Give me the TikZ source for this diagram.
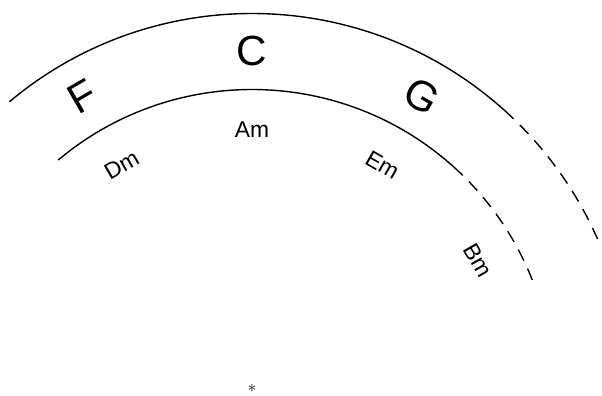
\documentclass[tikz,border=0pt]{standalone}
\usepackage{fontspec}
\setsansfont{Liberation Sans}
\begin{document}
\begin{tikzpicture}[
    line cap=butt,
    solidarc/.style={line width=0.8pt},
    dashedarc/.style={
        line width=0.8pt,
        dash pattern=on 7pt off 5pt
    },
    major/.style={font=\sffamily\fontsize{24}{24}\selectfont, inner sep=0pt},
    minor/.style={font=\sffamily\fontsize{13}{13}\selectfont, inner sep=0pt}
]

% =========================================================
% Parameters
% =========================================================

\def\Ro{7.55}    % outer circle (major keys)
\def\Ri{6.03}    % inner circle (minor keys)
\def\Rmaj{6.8}   % radius of major labels
\def\Rmin{5.22}  % radius of minor labels

\useasboundingbox (-5.04,-0.10) rectangle (7.0,7.82);

\coordinate (O) at (0,0);

% =========================================================
% Outer circle
% =========================================================

\draw[solidarc]
    (130:\Ro) arc[start angle=130, end angle=48, radius=\Ro];
\draw[dashedarc]
    (48:\Ro) arc[start angle=48, end angle=23, radius=\Ro];

% =========================================================
% Inner circle
% =========================================================

\draw[solidarc]
    (130:\Ri) arc[start angle=130, end angle=48, radius=\Ri];
\draw[dashedarc]
    (48:\Ri) arc[start angle=48, end angle=20, radius=\Ri];

% =========================================================
% Major keys
% =========================================================

\node[major, rotate=30]  (F) at (120:\Rmaj) {F};
\node[major]             (C) at (90:\Rmaj)  {C};
\node[major, rotate=-30] (G) at (60:\Rmaj)  {G};

% =========================================================
% Minor keys
% =========================================================

\node[minor, rotate=30]  (Dm) at (120:\Rmin) {Dm};
\node[minor]             (Am) at (90:\Rmin)  {Am};
\node[minor, rotate=-30] (Em) at (60:\Rmin)  {Em};
\node[minor, rotate=-60] (Bm) at (30:\Rmin)  {Bm};

% =========================================================
% Centre
% =========================================================

\node (star) at (O) {*};

\end{tikzpicture}
\end{document}
